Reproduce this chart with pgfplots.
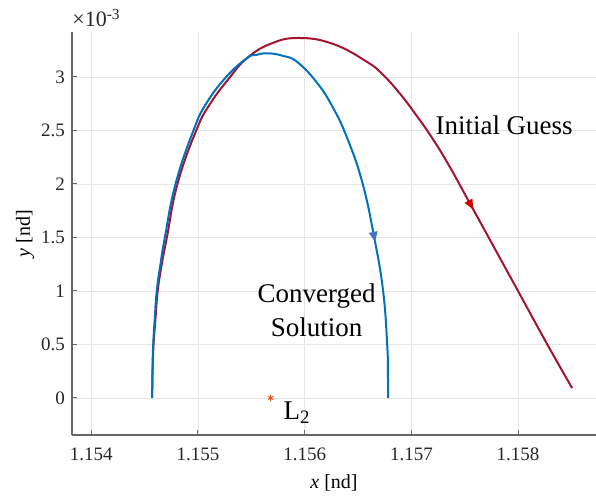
\documentclass[border=0pt]{standalone}
\usepackage{fontspec}
\setmainfont{Liberation Serif}
\usepackage{pgfplots}
\pgfplotsset{compat=1.18}
\usetikzlibrary{decorations.markings,arrows.meta}

\definecolor{convblue}{HTML}{0072BD}
\definecolor{guessred}{HTML}{A2142F}
\definecolor{arrowred}{HTML}{D00000}
\definecolor{arrowblue}{HTML}{4472C4}
\definecolor{ltwo}{HTML}{D95319}

% dx = (x - 1.154) in units of 1e-3, y in units of 1e-3
% (kept as offsets: TeX arithmetic is too coarse for 1.15457 vs 1.15458)
\pgfplotstableread{
dx y
0.571 0.000
0.575 0.250
0.584 0.500
0.603 0.750
0.623 1.000
0.661 1.250
0.709 1.500
0.808 2.000
0.984 2.500
1.115 2.750
1.302 3.000
1.459 3.175
1.677 3.308
1.939 3.364
2.267 3.308
2.585 3.140
2.735 3.019
2.895 2.841
3.044 2.645
3.194 2.430
3.344 2.187
3.541 1.832
3.724 1.500
3.999 1.000
4.274 0.500
4.506 0.093
}\guess

\pgfplotstableread{
dx y
0.571 0.000
0.574 0.250
0.581 0.500
0.596 0.750
0.614 1.000
0.649 1.250
0.690 1.500
0.790 2.000
0.958 2.500
1.077 2.750
1.265 3.000
1.459 3.175
1.546 3.206
1.658 3.221
1.799 3.196
1.930 3.140
2.117 2.944
2.267 2.710
2.398 2.430
2.539 2.019
2.651 1.505
2.735 1.000
2.773 0.505
2.780 0.250
2.782 0.000
}\converged

\begin{document}
\begin{tikzpicture}
\begin{axis}[
  scale only axis, width=262pt, height=201.5pt,
  xmin=-0.18, xmax=4.73, ymin=-0.346, ymax=3.42,
  axis x line*=bottom, axis y line*=left,
  axis line style={black!60, line width=0.6pt},
  xtick={0,1,2,3,4},
  xticklabels={1.154,1.155,1.156,1.157,1.158},
  ytick={0,0.5,1,1.5,2,2.5,3},
  scaled x ticks=false, scaled y ticks=false,
  xticklabel style={yshift=-3pt},
  yticklabel style={/pgf/number format/fixed},
  /pgf/number format/assume math mode=true,
  tick label style={font=\fontsize{9.5}{11}\selectfont, text=black!85},
  tick align=inside, major tick length=2.5pt,
  tick style={black!60, line width=0.5pt},
  grid=major, major grid style={black!10, line width=0.4pt},
  label style={font=\fontsize{11}{13}\selectfont},
  xlabel={\textit{x} [nd]}, ylabel={\textit{y} [nd]},
  every axis x label/.style={at={(axis description cs:0.5,0)}, anchor=base, yshift=-26.5pt},
  every axis y label/.style={at={(axis description cs:0,0.5)}, rotate=90, anchor=center, yshift=23.5pt},
  clip=false,
]
\addplot[guessred, line width=1pt, smooth, tension=0.75,
  postaction={decorate},
  decoration={markings, mark=at position 0.768 with {\arrow[arrowred]{Triangle[length=5pt,width=4.2pt]}}}]
  table[x=dx, y=y] {\guess};
\addplot[convblue, line width=1pt, smooth, tension=0.75,
  postaction={decorate},
  decoration={markings, mark=at position 0.797 with {\arrow[arrowblue]{Triangle[length=5pt,width=4.2pt]}}}]
  table[x=dx, y=y] {\converged};
\addplot[only marks, mark=asterisk, mark size=1.6pt, ltwo, mark options={line width=0.5pt}]
  coordinates {(1.682,0)};

\node[anchor=base, font=\fontsize{13.5}{16}\selectfont] at (axis cs:3.869,2.458) {Initial Guess};
\node[anchor=base, font=\fontsize{13.5}{16}\selectfont] at (axis cs:2.112,0.888) {Converged};
\node[anchor=base, font=\fontsize{13.5}{16}\selectfont] at (axis cs:2.112,0.579) {Solution};
\node[anchor=base west, inner sep=0pt, font=\fontsize{13.5}{16}\selectfont] at (axis cs:1.799,-0.200) {L\textsubscript{2}};
\node[anchor=base west, inner sep=0pt, font=\fontsize{11}{13}\selectfont, text=black!85,
  yshift=2.5pt] at (rel axis cs:0,1) {×10\textsuperscript{-3}};
\end{axis}
\pgfresetboundingbox
\path (current axis.south west) +(-36pt,-30.5pt) (current axis.north east) +(0pt,16pt);
\end{tikzpicture}
\end{document}
